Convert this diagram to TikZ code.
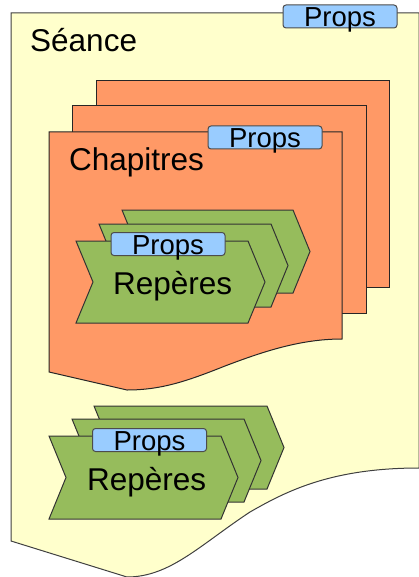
\documentclass[tikz,border=0pt]{standalone}
\usepackage{fontspec}
\setmainfont{Liberation Sans}
\usepackage{tikz}

\definecolor{seanceyellow}{HTML}{FFFFCC}
\definecolor{pageorange}{HTML}{FF9966}
\definecolor{repgreen}{HTML}{96BC5C}
\definecolor{propsblue}{HTML}{99CCFF}

\begin{document}
\begin{tikzpicture}[x=1pt,y=-1pt]
        \tikzset{seance/.style = {fill=seanceyellow, draw=black!75, line width=1pt}}
        \tikzset{page/.style = {fill=pageorange, draw=black!85, line width=1pt}}
        \tikzset{chevron/.style = {fill=repgreen, draw=black!80, line width=1pt}}
        \tikzset{props/.style = {shape=rectangle, rounded corners=3pt, fill=propsblue, draw=black!70, line width=1pt,
                minimum width=114pt, inner sep=0pt, text height=22pt, text depth=1pt,
                font=\fontsize{27.5}{30}\selectfont}}
        \tikzset{title/.style = {anchor=base west, inner sep=0pt, font=\fontsize{31.5}{36}\selectfont}}
        \useasboundingbox (0,0) rectangle (419,577);
        % seance
        \draw[seance] (11,13) -- (419,13) -- (419,468)
            .. controls (330,468) and (285,492) .. (250,512)
            .. controls (200,545) and (170,577) .. (127,577) -- (11,541) -- cycle;
        \node[props] (propsseance) at (340,16.5) {Props};
        \node[title] (seancetitle) at (30,52) {Séance};
        % chapitres
        \draw[page] (96,81) rectangle (389,287);
        \draw[page] (72,106) rectangle (366,313);
        \draw[page] (49,132) -- (342,132) -- (342,339)
            .. controls (300,339) and (262,352) .. (225,366)
            .. controls (185,382) and (160,390) .. (127,390) -- (49,372) -- cycle;
        \node[props] (propschapitres) at (265,137.5) {Props};
        \node[title] (chapitrestitle) at (69,171) {Chapitres};
        % reperes in chapitres
        \draw[chevron] (122,210) -- ++(171,0) -- ++(17,41.5) -- ++(-17,41.5) -- ++(-171,0) -- ++(17,-41.5) -- cycle;
        \draw[chevron] (99,224) -- ++(172,0) -- ++(17,41.5) -- ++(-17,41.5) -- ++(-172,0) -- ++(17,-41.5) -- cycle;
        \draw[chevron] (76,241) -- ++(172,0) -- ++(17,41) -- ++(-17,41) -- ++(-172,0) -- ++(17,-41) -- cycle;
        \node[props] (propsreperes) at (168,244) {Props};
        \node[title] (reperestitle) at (113,294) {Repères};
        % reperes in seance
        \draw[chevron] (94,406) -- ++(173,0) -- ++(17,41.5) -- ++(-17,41.5) -- ++(-173,0) -- ++(17,-41.5) -- cycle;
        \draw[chevron] (72,419) -- ++(172,0) -- ++(17,41.5) -- ++(-17,41.5) -- ++(-172,0) -- ++(17,-41.5) -- cycle;
        \draw[chevron] (49,436) -- ++(172,0) -- ++(17,41.5) -- ++(-17,41.5) -- ++(-172,0) -- ++(17,-41.5) -- cycle;
        \node[props] (propsseancereperes) at (149.5,440) {Props};
        \node[title] (seancereperestitle) at (87,490) {Repères};
    \end{tikzpicture}
\end{document}
